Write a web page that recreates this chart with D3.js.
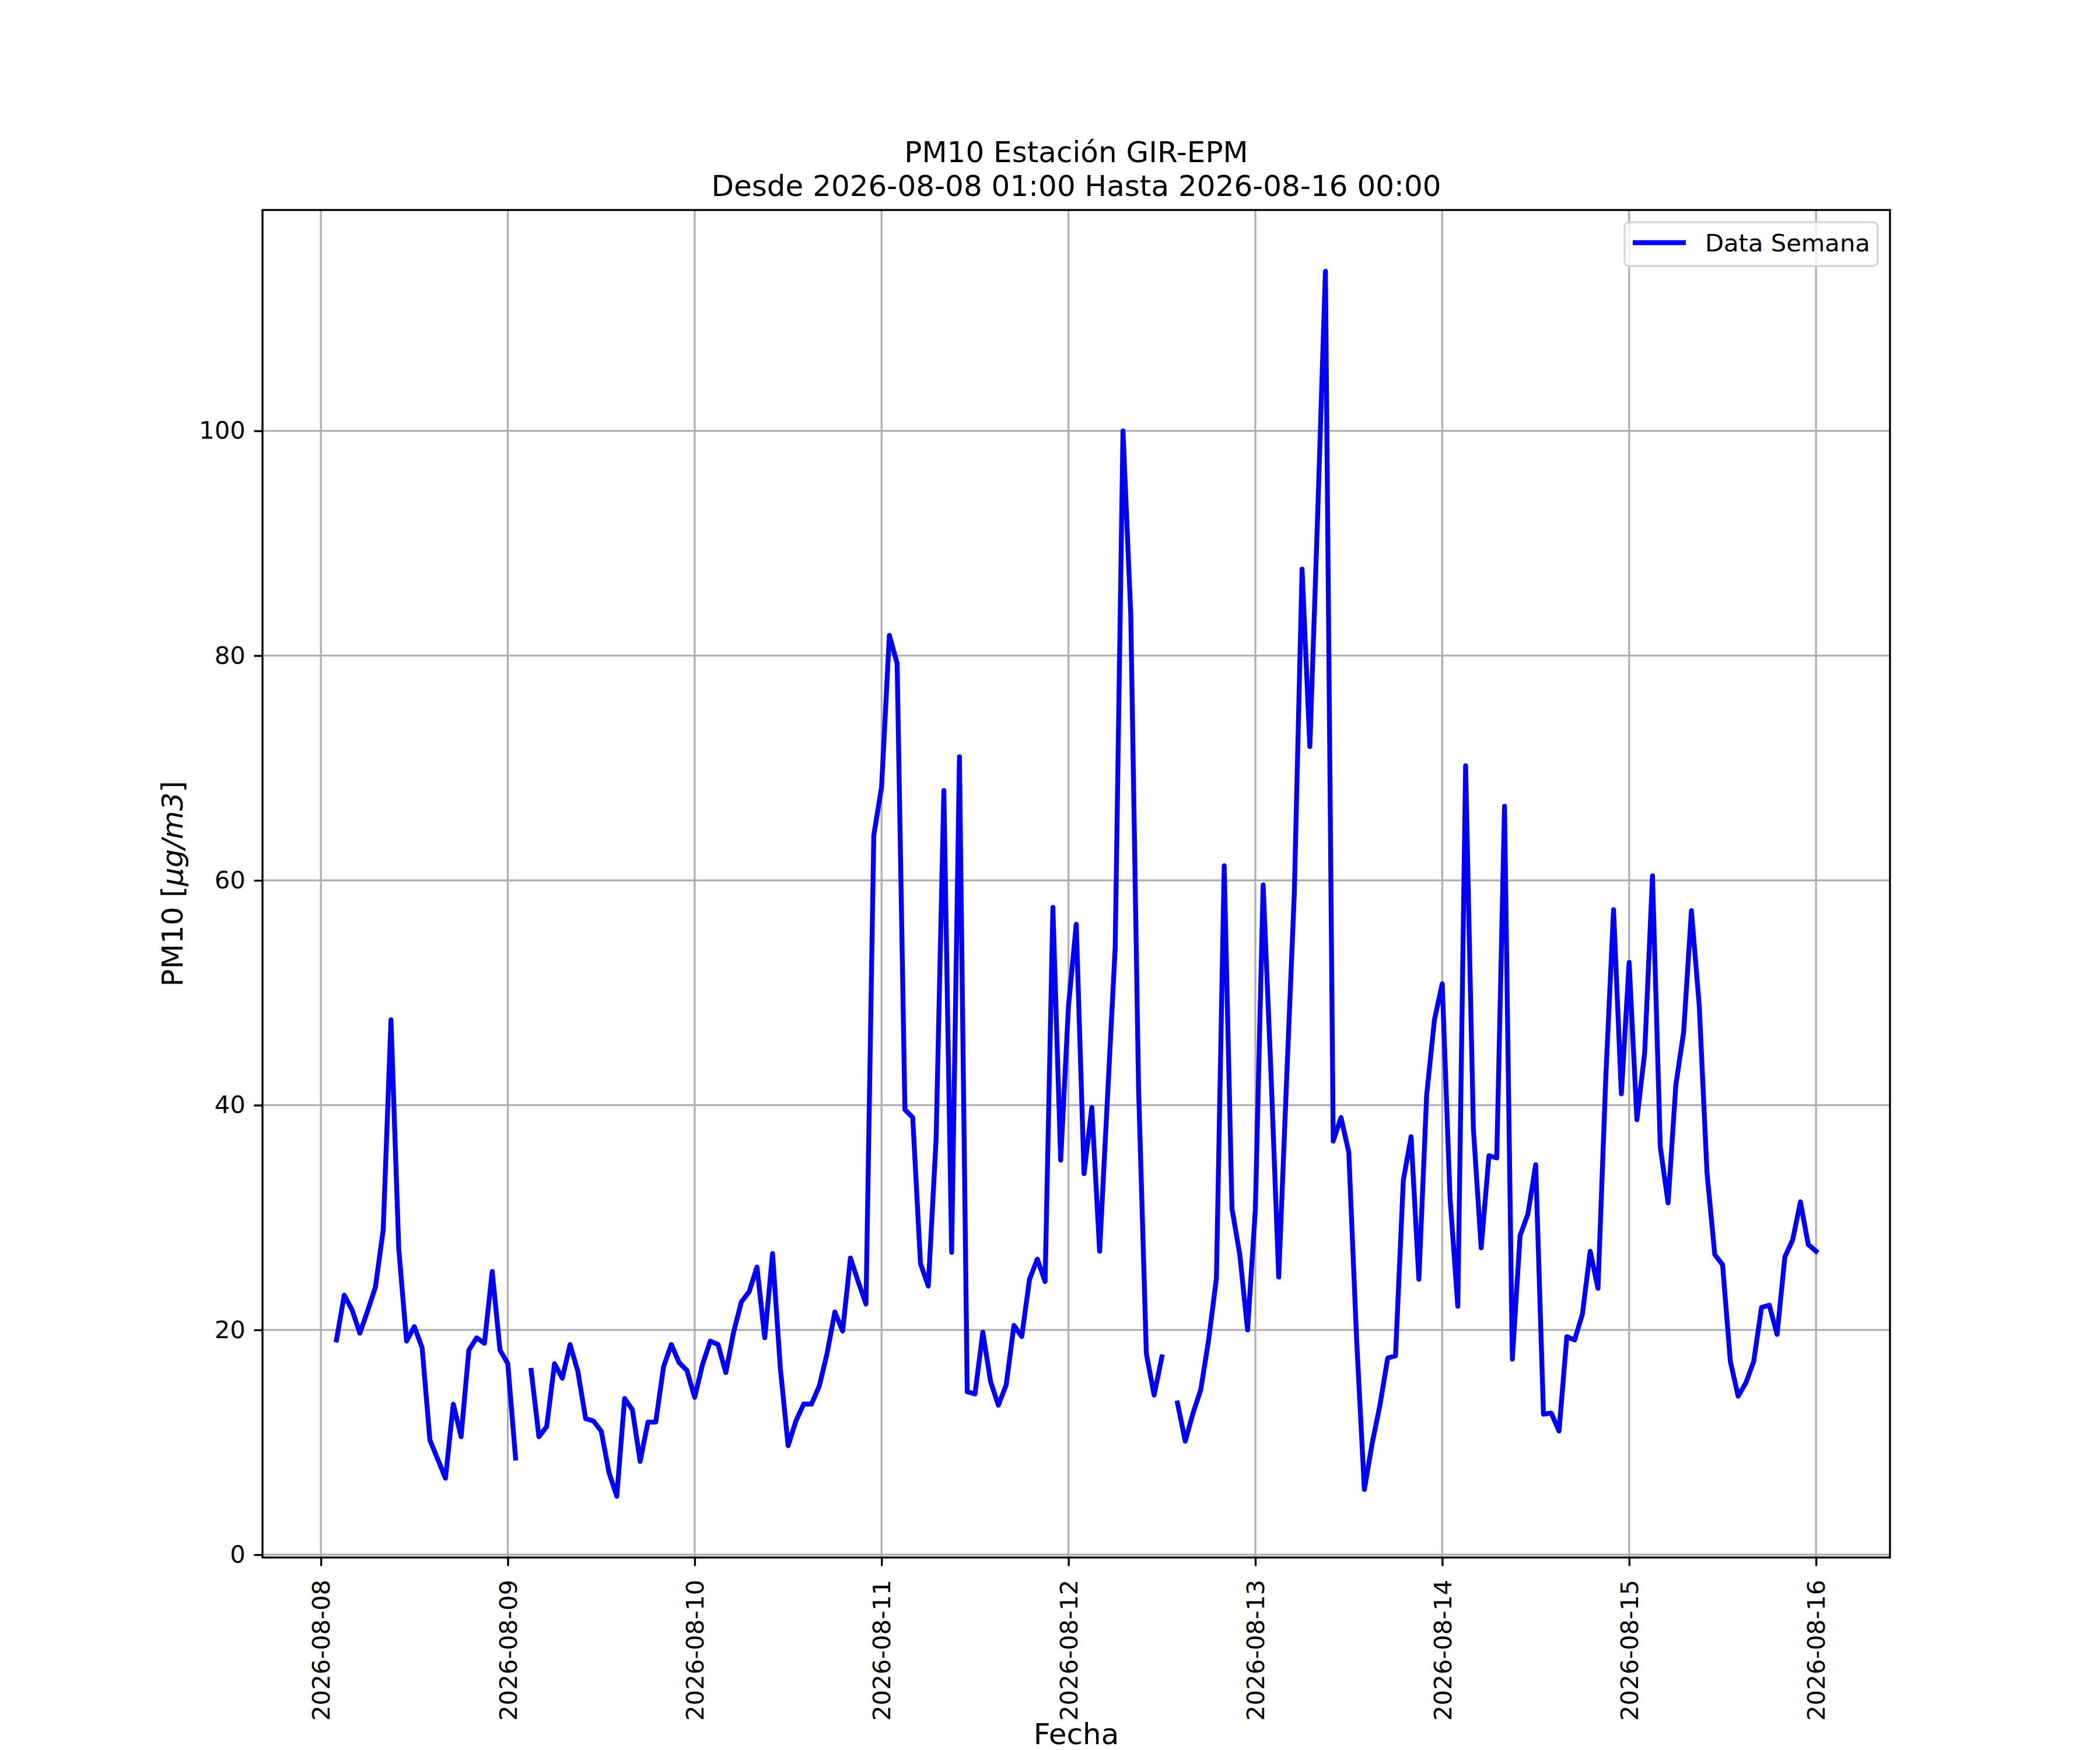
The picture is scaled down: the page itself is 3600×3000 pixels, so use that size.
<!DOCTYPE html>
<html>
<head>
<meta charset="utf-8">
<script src="https://cdn.jsdelivr.net/npm/d3@7"></script>
<style>
  body { margin: 0; background: #fff; }
  svg { display: block; font-family: "DejaVu Sans", sans-serif; }
</style>
</head>
<body>
<div id="chart"></div>
<script>
// PM10 hourly, each day from 01:00 to 00:00 of the next day
const dia08 = [null, 19.1, 23.1, 21.8, 19.7, 21.7, 23.8, 28.9, 47.6, 27.2, 19.0, 20.3, 18.4, 10.2, 8.5, 6.8, 13.4, 10.5, 18.2, 19.3, 18.8, 25.2, 18.2, 17.0];
const dia09 = [8.6, null, 16.4, 10.5, 11.4, 17.0, 15.7, 18.7, 16.3, 12.1, 11.9, 11.0, 7.3, 5.2, 13.9, 12.9, 8.3, 11.8, 11.8, 16.7, 18.7, 17.1, 16.4, 14.0];
const dia10 = [16.9, 19.0, 18.7, 16.2, 19.8, 22.5, 23.4, 25.6, 19.3, 26.8, 16.6, 9.7, 11.9, 13.4, 13.4, 15.0, 17.9, 21.6, 19.9, 26.4, 24.3, 22.3, 64.0, 68.3];
const dia11 = [81.8, 79.3, 39.6, 38.9, 25.9, 23.9, 36.9, 68.0, 26.9, 71.0, 14.5, 14.3, 19.8, 15.4, 13.3, 15.1, 20.4, 19.4, 24.5, 26.3, 24.3, 57.6, 35.1, 48.8];
const dia12 = [56.1, 33.9, 39.8, 27.0, 40.5, 54.0, 100.0, 83.7, 41.6, 17.9, 14.2, 17.6, null, 13.5, 10.1, 12.6, 14.7, 19.1, 24.6, 61.3, 30.8, 26.7, 20.0, 30.7];
const dia13 = [59.6, 43.0, 24.7, 42.0, 58.8, 87.7, 71.9, 92.5, 114.2, 36.8, 38.9, 35.8, 19.2, 5.8, 9.9, 13.3, 17.5, 17.7, 33.3, 37.2, 24.5, 40.9, 47.6, 50.8];
const dia14 = [31.8, 22.1, 70.2, 37.9, 27.3, 35.5, 35.3, 66.6, 17.4, 28.4, 30.3, 34.7, 12.5, 12.6, 11.0, 19.4, 19.1, 21.4, 27.0, 23.7, 42.4, 57.4, 41.0, 52.7];
const dia15 = [38.7, 44.7, 60.4, 36.3, 31.3, 41.8, 46.5, 57.3, 48.9, 34.0, 26.7, 25.8, 17.2, 14.1, 15.3, 17.2, 22.0, 22.2, 19.6, 26.5, 28.0, 31.4, 27.6, 27.0];

const inicio = Date.UTC(2026, 7, 8, 1);   // 2026-08-08 01:00
const titulo = ["PM10 Estación GIR-EPM", "Desde 2026-08-08 01:00 Hasta 2026-08-16 00:00"];
const serieNombre = "Data Semana";

const valores = [].concat(dia08, dia09, dia10, dia11, dia12, dia13, dia14, dia15);
const data = valores.map((v, i) => ({ t: new Date(inicio + i * 3600e3), v: v }));

const FONT = '"DejaVu Sans", sans-serif';
const W = 3600, H = 3000;
const margin = { left: 450, right: 360, top: 360, bottom: 330 };
const pw = W - margin.left - margin.right;
const ph = H - margin.top - margin.bottom;

const svg = d3.select('#chart')
  .append('svg')
  .attr('width', W)
  .attr('height', H);

svg.append('rect').attr('width', W).attr('height', H).attr('fill', '#fff');

const valid = data.filter(d => d.v != null);

// matplotlib style 5% margins
const tExt = d3.extent(valid, d => +d.t);
const tPad = (tExt[1] - tExt[0]) * 0.05;
const vExt = d3.extent(valid, d => d.v);
const vPad = (vExt[1] - vExt[0]) * 0.05;

const x = d3.scaleUtc()
  .domain([new Date(tExt[0] - tPad), new Date(tExt[1] + tPad)])
  .range([0, pw]);

const y = d3.scaleLinear()
  .domain([vExt[0] - vPad, vExt[1] + vPad])
  .range([ph, 0]);

const g = svg.append('g')
  .attr('transform', `translate(${margin.left},${margin.top})`);

const xTicks = x.ticks(d3.utcDay.every(1));
const yTicks = y.ticks(6);

// grid
g.append('g')
  .selectAll('line')
  .data(xTicks)
  .enter()
  .append('line')
  .attr('x1', d => x(d)).attr('x2', d => x(d))
  .attr('y1', 0).attr('y2', ph)
  .attr('stroke', '#b0b0b0')
  .attr('stroke-width', 3.33);

g.append('g')
  .selectAll('line')
  .data(yTicks)
  .enter()
  .append('line')
  .attr('x1', 0).attr('x2', pw)
  .attr('y1', d => y(d)).attr('y2', d => y(d))
  .attr('stroke', '#b0b0b0')
  .attr('stroke-width', 3.33);

// data line
const line = d3.line()
  .defined(d => d.v != null)
  .x(d => x(d.t))
  .y(d => y(d.v));

g.append('path')
  .datum(data)
  .attr('d', line)
  .attr('fill', 'none')
  .attr('stroke', '#0000ff')
  .attr('stroke-width', 8.33)
  .attr('stroke-linejoin', 'round')
  .attr('stroke-linecap', 'square');

// spines
g.append('rect')
  .attr('width', pw).attr('height', ph)
  .attr('fill', 'none')
  .attr('stroke', '#000')
  .attr('stroke-width', 3.33);

// x axis
const xAxis = d3.axisBottom(x)
  .tickValues(xTicks)
  .tickFormat(d3.utcFormat('%Y-%m-%d'))
  .tickSize(14.6)
  .tickPadding(14.6);

const gx = g.append('g')
  .attr('transform', `translate(0,${ph})`)
  .call(xAxis)
  .attr('font-family', FONT)
  .attr('font-size', 41.67);

gx.select('.domain').remove();
gx.selectAll('.tick line').attr('stroke', '#000').attr('stroke-width', 3.33);
gx.selectAll('.tick text')
  .attr('font-family', FONT)
  .attr('font-size', 41.67)
  .attr('fill', '#000')
  .attr('text-anchor', 'end')
  .attr('transform', 'rotate(-90)')
  .attr('x', -38)
  .attr('y', 0)
  .attr('dy', '0.35em');

// y axis
const yAxis = d3.axisLeft(y)
  .tickValues(yTicks)
  .tickFormat(d3.format('d'))
  .tickSize(14.6)
  .tickPadding(14.6);

const gy = g.append('g')
  .call(yAxis)
  .attr('font-family', FONT)
  .attr('font-size', 41.67);
gy.select('.domain').remove();
gy.selectAll('.tick line').attr('stroke', '#000').attr('stroke-width', 3.33);
gy.selectAll('.tick text')
  .attr('font-family', FONT)
  .attr('font-size', 41.67)
  .attr('fill', '#000');

// title
svg.append('text')
  .attr('x', margin.left + pw / 2)
  .attr('y', 278)
  .attr('text-anchor', 'middle')
  .attr('font-size', 50)
  .text(titulo[0]);

svg.append('text')
  .attr('x', margin.left + pw / 2)
  .attr('y', 336)
  .attr('text-anchor', 'middle')
  .attr('font-size', 50)
  .text(titulo[1]);

// axis labels
svg.append('text')
  .attr('x', margin.left + pw / 2)
  .attr('y', 2990)
  .attr('text-anchor', 'middle')
  .attr('font-size', 50)
  .text('Fecha');

const yl = svg.append('text')
  .attr('transform', `translate(313,${margin.top + ph / 2}) rotate(-90)`)
  .attr('text-anchor', 'middle')
  .attr('font-size', 50);
yl.append('tspan').text('PM10 [');
yl.append('tspan').attr('font-style', 'italic').text('μg/m3');
yl.append('tspan').text(']');

// legend
const leg = svg.append('g').attr('transform', 'translate(2785,381)');
leg.append('rect')
  .attr('width', 434).attr('height', 75)
  .attr('rx', 8).attr('ry', 8)
  .attr('fill', '#fff').attr('fill-opacity', 0.8)
  .attr('stroke', '#cccccc').attr('stroke-opacity', 0.8)
  .attr('stroke-width', 3.5);
leg.append('line')
  .attr('x1', 14).attr('x2', 105)
  .attr('y1', 35).attr('y2', 35)
  .attr('stroke', '#0000ff')
  .attr('stroke-width', 8.33);
leg.append('text')
  .attr('x', 138).attr('y', 50)
  .attr('font-size', 41.67)
  .text(serieNombre);
</script>
</body>
</html>
